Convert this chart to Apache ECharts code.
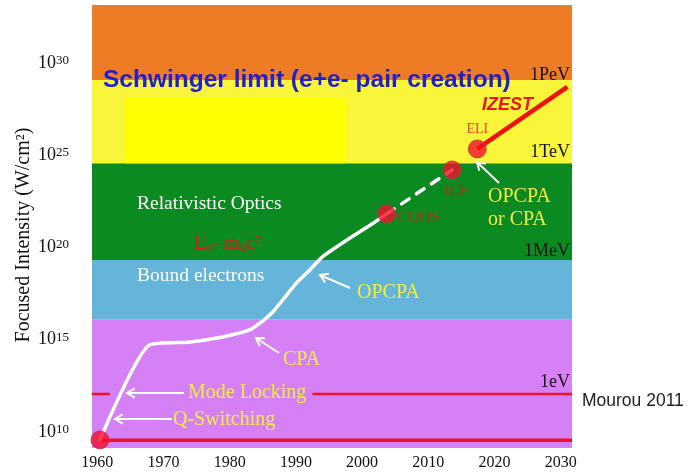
<!DOCTYPE html>
<html><head><meta charset="utf-8">
<script src="https://cdn.jsdelivr.net/npm/echarts@6/dist/echarts.min.js"></script>
<style>html,body{margin:0;padding:0;background:#fff}#c{width:689px;height:473px}</style>
</head><body><div id="c"></div>
<script>
// ---- data (intensity given as log10 exponent, W/cm^2) ----
const xTicks = [1960, 1970, 1980, 1990, 2000, 2010, 2020, 2030];
const yTickExps = [10, 15, 20, 25, 30];
const xRange = [1959.2, 2031.7];
const yRange = [9.13, 33.14];
const bandEdges = [9.13, 16.11, 19.32, 24.56, 29.08, 33.14];
const bandColors = ['#D580F5', '#65B4D9', '#0A8A20', '#F8F53A', '#EE7C24'];
const innerBandYears = [1964.2, 1997.6];
const innerBandExps = [24.56, 28.1];
const curveYears = [1960.4, 1967.9, 1974.0, 1978.9, 1983.0, 1985.0, 1986.5, 1988.0, 1990.1, 1992.1, 1994.0, 1996.6, 1999.1, 2001.6, 2003.7];
const curveExps  = [9.57, 14.72, 14.88, 15.15, 15.53, 16.02, 16.5, 17.15, 18.08, 18.78, 19.49, 20.14, 20.73, 21.30, 21.82];
const dashYears = [2003.7, 2013.6];
const dashExps = [21.82, 24.2];
const izestYears = [2017.4, 2031.0];
const izestExps = [25.34, 28.7];
const dotNames = ['', 'CUOS', 'ILE', 'ELI'];
const dotYears = [1960.4, 2003.7, 2013.6, 2017.4];
const dotExps = [9.57, 21.82, 24.2, 25.34];
const baseLineYears = [1960.4, 2031.7];
const baseLineExp = 9.55;
const eVLineExp = 12.06;
const eVLeftYears = [1959.2, 1961.9];
const eVRightYears = [1992.5, 2031.7];

const SERIF = '"Liberation Serif", "Times New Roman", serif';
const SANS = '"Liberation Sans", Arial, sans-serif';
const zip = (xs, ys) => xs.map((x, i) => [x, ys[i]]);

const bandAreas = bandColors.map((c, i) => [
  { yAxis: bandEdges[i], itemStyle: { color: c } },
  { yAxis: bandEdges[i + 1] }
]);
bandAreas.push([
  { xAxis: innerBandYears[0], yAxis: innerBandExps[0], itemStyle: { color: '#FFFF00' } },
  { xAxis: innerBandYears[1], yAxis: innerBandExps[1] }
]);

function arrow(x1, y1, x2, y2) {
  const a = Math.atan2(y2 - y1, x2 - x1), L = 9, w = 0.55;
  const p1 = [x2 - L * Math.cos(a - w), y2 - L * Math.sin(a - w)];
  const p2 = [x2 - L * Math.cos(a + w), y2 - L * Math.sin(a + w)];
  return [
    { type: 'line', z: 50, shape: { x1, y1, x2, y2 }, style: { stroke: '#fff', lineWidth: 2 } },
    { type: 'polyline', z: 50, shape: { points: [p1, [x2, y2], p2] }, style: { stroke: '#fff', lineWidth: 2, fill: null } }
  ];
}
function txt(text, x, y, opts, extra) {
  return Object.assign({ type: 'text', z: 50, x, y, style: Object.assign({
    text, fontFamily: SERIF, fontSize: 20, fill: '#F2EC45', align: 'left', verticalAlign: 'middle'
  }, opts || {}) }, extra || {});
}

const YEL = '#F4EC44';
const RED_TXT = '#E8141E';
const graphics = [].concat(
  [
    txt('Focused Intensity (W/cm²)', 24, 235, { fill: '#111', align: 'center' }, { rotation: Math.PI / 2 }),
    txt('Schwinger limit (e+e- pair creation)', 103, 80, { fontFamily: SANS, fontWeight: 'bold', fontSize: 24.5, fill: '#2020CC' }),
    txt('1PeV', 570, 75, { fill: '#111', fontSize: 18, align: 'right' }),
    txt('1TeV', 570, 152, { fill: '#111', fontSize: 18, align: 'right' }),
    txt('1MeV', 570, 251, { fill: '#111', fontSize: 18, align: 'right' }),
    txt('1eV', 570, 382, { fill: '#111', fontSize: 18, align: 'right' }),
    txt('IZEST', 482, 105, { fontFamily: SANS, fontWeight: 'bold', fontStyle: 'italic', fontSize: 18, fill: '#EE1515' }),
    txt('Relativistic Optics', 137, 204, { fill: '#fff', fontSize: 19.5 }),
    { type: 'text', z: 50, x: 194, y: 244, style: {
        text: '{m|E}{sub|0}{m|=m}{sub|0}{m|c}{sup|2}', verticalAlign: 'middle', fill: RED_TXT,
        rich: {
          m: { fontFamily: SERIF, fontSize: 20, fill: RED_TXT },
          sub: { fontFamily: SERIF, fontSize: 13, fill: RED_TXT, verticalAlign: 'bottom' },
          sup: { fontFamily: SERIF, fontSize: 13, fill: RED_TXT, verticalAlign: 'top' }
        } } },
    txt('Bound electrons', 137, 276, { fill: '#fff', fontSize: 19.5 }),
    txt('OPCPA', 357, 293, { fill: YEL }),
    txt('CPA', 283, 360, { fill: YEL }),
    txt('Mode Locking', 188, 393, { fill: YEL }),
    txt('Q-Switching', 173, 420, { fill: YEL }),
    txt('OPCPA', 488, 197, { fill: YEL }),
    txt('or CPA', 488, 220, { fill: YEL }),
    txt('Mourou 2011', 582, 401, { fontFamily: SANS, fontSize: 17.5, fill: '#222' })
  ],
  arrow(172, 419, 115, 419),
  arrow(184, 393, 127, 393),
  arrow(279, 353, 256, 338),
  arrow(350, 288, 320, 275),
  arrow(499, 183, 477, 162)
);

const dotLabel = (pos, dist, off, size) => ({
  show: true, position: pos, distance: dist, offset: off,
  fontFamily: SERIF, fontSize: size, color: RED_TXT, formatter: '{b}'
});

const chart = echarts.init(document.getElementById('c'), null, { renderer: 'canvas' });
chart.setOption({
  animation: false,
  backgroundColor: '#fff',
  grid: { left: 92, right: 117, top: 5, bottom: 25, containLabel: false },
  xAxis: {
    type: 'value', min: xRange[0], max: xRange[1],
    axisLine: { show: false }, axisTick: { show: false }, splitLine: { show: false },
    axisLabel: { customValues: xTicks, formatter: v => String(v), fontFamily: SERIF, fontSize: 16, color: '#111', margin: 7 }
  },
  yAxis: {
    type: 'value', min: yRange[0], max: yRange[1],
    axisLine: { show: false }, axisTick: { show: false }, splitLine: { show: false },
    axisLabel: {
      customValues: yTickExps, margin: 23,
      formatter: v => '{b|10}{s|' + v + '}',
      rich: {
        b: { fontFamily: SERIF, fontSize: 18, color: '#111' },
        s: { fontFamily: SERIF, fontSize: 13, color: '#111', verticalAlign: 'top' }
      }
    }
  },
  series: [
    { type: 'line', z: 0, data: [], silent: true,
      markArea: { silent: true, data: bandAreas } },
    { type: 'line', z: 3, data: zip(baseLineYears, [baseLineExp, baseLineExp]), showSymbol: false,
      lineStyle: { color: '#F0102A', width: 3.5 } },
    { type: 'line', z: 3, data: zip(eVLeftYears, [eVLineExp, eVLineExp]), showSymbol: false,
      lineStyle: { color: '#F0102A', width: 2.5 } },
    { type: 'line', z: 3, data: zip(eVRightYears, [eVLineExp, eVLineExp]), showSymbol: false,
      lineStyle: { color: '#F0102A', width: 2.5 } },
    { type: 'line', z: 4, data: zip(curveYears, curveExps), showSymbol: false, smooth: 0.2,
      lineStyle: { color: '#fff', width: 3.5, cap: 'round', join: 'round' } },
    { type: 'line', z: 4, data: zip(dashYears, dashExps), showSymbol: false,
      lineStyle: { color: '#fff', width: 3.5, type: [9, 9], cap: 'round' } },
    { type: 'line', z: 4, data: zip(izestYears, izestExps), showSymbol: false,
      lineStyle: { color: '#EE1111', width: 4.5 } },
    { type: 'scatter', z: 6, symbolSize: 18,
      itemStyle: { color: '#F2102B', borderColor: '#B8344A', borderWidth: 1 },
      data: dotYears.map((y, i) => {
        const d = { value: [y, dotExps[i]], name: dotNames[i] };
        if (dotNames[i] === 'CUOS') d.label = dotLabel('right', 1, [0, 4], 16);
        if (dotNames[i] === 'ILE') d.label = dotLabel('bottom', 4, [4, 0], 16);
        if (dotNames[i] === 'ELI') d.label = dotLabel('top', 3, [0, 0], 14);
        return d;
      }),
      label: { show: false }
    }
  ],
  graphic: graphics
});
</script></body></html>
